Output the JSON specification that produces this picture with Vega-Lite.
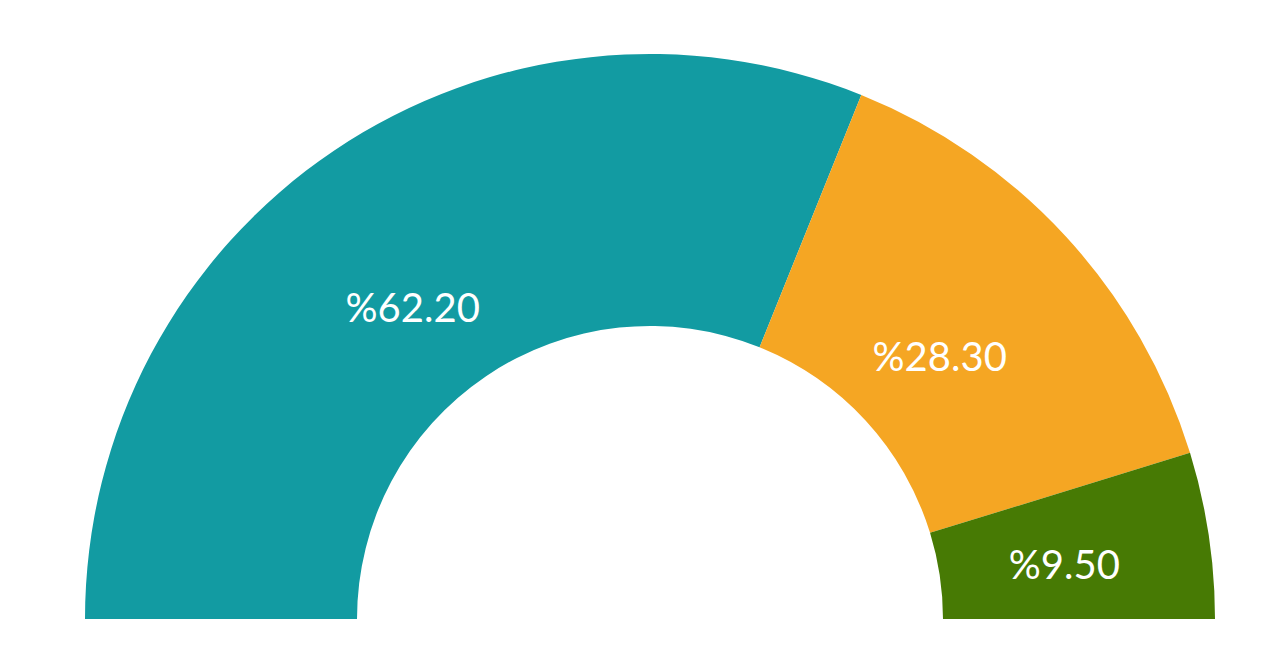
{
  "$schema": "https://vega.github.io/schema/vega-lite/v6.json",
  "width": 1277,
  "height": 653,
  "autosize": {"type": "fit", "contains": "padding"},
  "padding": 0,
  "background": "white",
  "view": {"stroke": null},
  "data": {
    "values": [
      {"category": "A", "value": 62.2, "label": "%62.20"},
      {"category": "B", "value": 28.3, "label": "%28.30"},
      {"category": "C", "value": 9.5, "label": "%9.50"}
    ]
  },
  "encoding": {
    "theta": {
      "field": "value",
      "type": "quantitative",
      "stack": true,
      "scale": {"range": [-1.5707963, 1.5707963]}
    },
    "order": {"field": "category", "sort": "ascending"}
  },
  "layer": [
    {
      "mark": {"type": "arc", "outerRadius": 565, "innerRadius": 293, "x": 650, "y": 619},
      "encoding": {
        "color": {
          "field": "category",
          "type": "nominal",
          "legend": null,
          "scale": {"domain": ["A", "B", "C"], "range": ["#129ba2", "#f5a623", "#477a04"]}
        }
      }
    },
    {
      "mark": {
        "type": "text",
        "radius": {"expr": "datum.value < 10 ? 418 : 392"},
        "x": 650,
        "y": 619,
        "dx": {"expr": "datum.category == 'A' ? -18 : 1"},
        "dy": {"expr": "datum.category == 'A' ? 16 : datum.category == 'B' ? 5 : 10"},
        "fontSize": 40,
        "font": "Lato",
        "fill": "white",
        "align": "center",
        "baseline": "middle"
      },
      "encoding": {
        "detail": {"field": "category"},
        "text": {"field": "label"}
      }
    }
  ]
}
